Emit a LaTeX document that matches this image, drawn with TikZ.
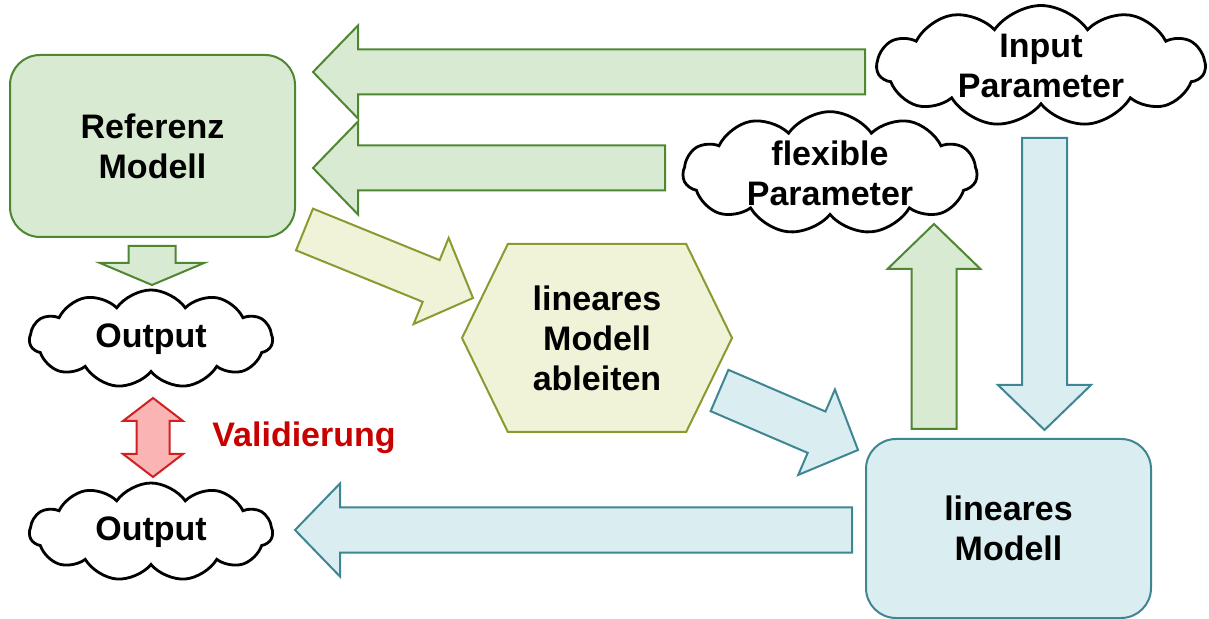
\documentclass[tikz,border=0pt]{standalone}
\usepackage{fontspec}
\setmainfont{Liberation Sans}
\usetikzlibrary{shapes.symbols,shapes.geometric,calc}
\definecolor{ref_green}{RGB}{217, 234, 211}
\definecolor{ref_green_dk}{RGB}{78, 134, 50}
\definecolor{lin_blue}{RGB}{218, 238, 242}
\definecolor{lin_blue_dk}{RGB}{62, 134, 146}
\definecolor{hex_yellow}{RGB}{240, 243, 215}
\definecolor{hex_yellow_dk}{RGB}{138, 154, 48}
\definecolor{val_red}{RGB}{250, 180, 180}
\definecolor{val_red_dk}{RGB}{208, 32, 32}
\definecolor{val_text}{RGB}{200, 0, 0}
\tikzstyle{rm}=[rectangle,rounded corners=15pt,fill=ref_green,draw=ref_green_dk,
  line width=1pt,minimum width=142.5pt,minimum height=91pt,align=center]
\tikzstyle{lm}=[rectangle,rounded corners=15pt,fill=lin_blue,draw=lin_blue_dk,
  line width=1pt,minimum width=142.5pt,minimum height=89.5pt,align=center]
\tikzstyle{hx}=[signal,signal to=west and east,signal pointer angle=128,fill=hex_yellow,
  draw=hex_yellow_dk,line width=1pt,minimum width=135pt,minimum height=94pt,align=center,inner sep=0pt]
\tikzstyle{cl}=[cloud,cloud puffs=11,cloud puff arc=110,cloud ignores aspect,fill=white,
  draw=black,line width=1.4pt,align=center,inner sep=0pt]
\tikzstyle{lbl}=[text=val_text,anchor=base west,inner sep=0pt]
\tikzstyle{ga}=[fill=ref_green,draw=ref_green_dk,line width=1pt]
\tikzstyle{ta}=[fill=lin_blue,draw=lin_blue_dk,line width=1pt]
\tikzstyle{ya}=[fill=hex_yellow,draw=hex_yellow_dk,line width=1pt]
\tikzstyle{ra}=[fill=val_red,draw=val_red_dk,line width=1pt]
\tikzstyle{none}=[]
% block arrows: {half shaft}{half head}{head length}, all in pt
\tikzset{
  bar/.style n args={3}{to path={let \p1=(\tikztostart),\p2=(\tikztotarget),
    \n1={atan2(\y2-\y1,\x2-\x1)},\n2={veclen(\x2-\x1,\y2-\y1)} in
    ($(\p1)+(\n1+90:#1pt)$) -- ($(\p1)+(\n1:{(\n2-#3)*1pt})+(\n1+90:#1pt)$)
    -- ($(\p1)+(\n1:{(\n2-#3)*1pt})+(\n1+90:#2pt)$) -- (\p2)
    -- ($(\p1)+(\n1:{(\n2-#3)*1pt})+(\n1-90:#2pt)$)
    -- ($(\p1)+(\n1:{(\n2-#3)*1pt})+(\n1-90:#1pt)$)
    -- ($(\p1)+(\n1-90:#1pt)$) -- cycle}},
  dbar/.style n args={3}{to path={let \p1=(\tikztostart),\p2=(\tikztotarget),
    \n1={atan2(\y2-\y1,\x2-\x1)},\n2={veclen(\x2-\x1,\y2-\y1)} in
    (\p1) -- ($(\p1)+(\n1:#3pt)+(\n1+90:#2pt)$) -- ($(\p1)+(\n1:#3pt)+(\n1+90:#1pt)$)
    -- ($(\p1)+(\n1:{(\n2-#3)*1pt})+(\n1+90:#1pt)$)
    -- ($(\p1)+(\n1:{(\n2-#3)*1pt})+(\n1+90:#2pt)$) -- (\p2)
    -- ($(\p1)+(\n1:{(\n2-#3)*1pt})+(\n1-90:#2pt)$)
    -- ($(\p1)+(\n1:{(\n2-#3)*1pt})+(\n1-90:#1pt)$)
    -- ($(\p1)+(\n1:#3pt)+(\n1-90:#1pt)$) -- ($(\p1)+(\n1:#3pt)+(\n1-90:#2pt)$) -- cycle}},
  blk/.style={bar={11.25}{23.25}{22.5}}
}
\begin{document}
\begin{tikzpicture}[x=0.5pt,y=-0.5pt,font=\fontsize{17pt}{20pt}\selectfont\bfseries]
		\useasboundingbox (0, 0) rectangle (1209, 619);
		\node [style=rm] (0) at (152.5, 146) {Referenz\\Modell};
		\node [style=lm] (1) at (1008.5, 528.5) {lineares\\Modell};
		\node [style=hx] (2) at (597, 338) {lineares\\Modell\\ableiten};
		\node [style=cl, minimum width=164pt, minimum height=55pt] (3) at (1041, 66) {Input\\Parameter};
		\node [style=cl, minimum width=147pt, minimum height=56pt] (4) at (830, 173) {flexible\\Parameter};
		\node [style=cl, minimum width=121.5pt, minimum height=49pt] (5) at (151, 339) {Output};
		\node [style=cl, minimum width=121.5pt, minimum height=49pt] (6) at (151, 532) {Output};
		\node [style=lbl] (7) at (212, 447) {Validierung};
		\node [style=none] (8) at (865, 72) {};
		\node [style=none] (9) at (313, 72) {};
		\node [style=none] (10) at (665, 168) {};
		\node [style=none] (11) at (313, 168) {};
		\node [style=none] (12) at (304.5, 229.5) {};
		\node [style=none] (13) at (473, 298) {};
		\node [style=none] (14) at (719.5, 390.5) {};
		\node [style=none] (15) at (858, 450) {};
		\node [style=none] (16) at (1044.5, 138) {};
		\node [style=none] (17) at (1044.5, 430) {};
		\node [style=none] (18) at (934, 429) {};
		\node [style=none] (19) at (934, 224) {};
		\node [style=none] (20) at (852, 530) {};
		\node [style=none] (21) at (295, 530) {};
		\node [style=none] (22) at (152, 246) {};
		\node [style=none] (23) at (152, 285) {};
		\node [style=none] (24) at (153, 398) {};
		\node [style=none] (25) at (153, 477) {};
		\draw [style=ga, blk] (8.center) to (9.center);
		\draw [style=ga, blk] (10.center) to (11.center);
		\draw [style=ya, blk] (12.center) to (13.center);
		\draw [style=ta, blk] (14.center) to (15.center);
		\draw [style=ta, blk] (16.center) to (17.center);
		\draw [style=ga, blk] (18.center) to (19.center);
		\draw [style=ta, blk] (20.center) to (21.center);
		\draw [style=ga, bar={11.75}{26}{11}] (22.center) to (23.center);
		\draw [style=ra, dbar={8.25}{15}{11.5}] (24.center) to (25.center);
\end{tikzpicture}
\end{document}
